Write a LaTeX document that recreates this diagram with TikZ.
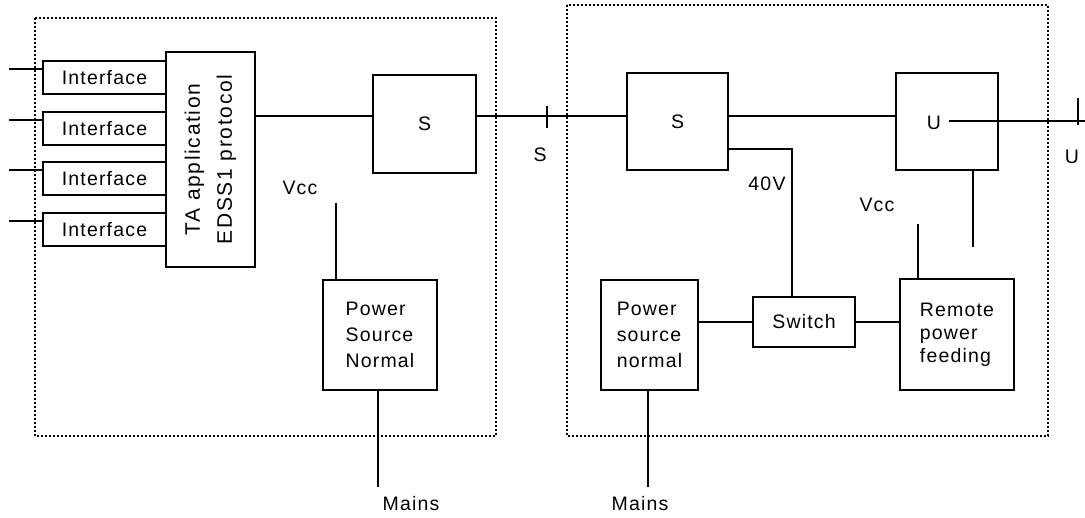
\documentclass[tikz,border=0pt]{standalone}
\usepackage{fontspec}
\setmainfont{Liberation Sans}[LetterSpace=6]

\begin{document}
\begin{tikzpicture}[x=0.5pt,y=-0.5pt,line width=1.2pt,
  every node/.style={font=\fontsize{9.75}{13}\selectfont},
  box/.style={draw,rectangle,inner sep=2pt},
  frame/.style={line width=0.9pt,dash pattern=on 0.9pt off 1.1pt}]

    \useasboundingbox (0,0) rectangle (1085,518);

    %% terminal adapter
    \draw[frame] (35,18) rectangle (496,436);
    \node[box, minimum width=61.5pt, minimum height=16.5pt] (if1) at (104.5,77.5) {Interface};
    \node[box, minimum width=61.5pt, minimum height=16.5pt] (if2) at (104.5,128.5) {Interface};
    \node[box, minimum width=61.5pt, minimum height=16.5pt] (if3) at (104.5,178.5) {Interface};
    \node[box, minimum width=61.5pt, minimum height=16.5pt] (if4) at (104.5,229.5) {Interface};
    \node[box, rotate=90, minimum width=107.5pt, minimum height=44.5pt, align=center,
      font=\fontsize{10.5}{16}\selectfont\addfontfeatures{LetterSpace=8}] (ta) at (210.5,159.5) {TA application\\EDSS1 protocol};
    \node[box, minimum width=51.5pt, minimum height=49pt] (sL) at (424.5,124) {S};
    \node[box, align=left, minimum width=57pt, minimum height=55pt] (psnL) at (380,335) {Power\\Source\\Normal};
    \node (vccLlabel) at (300,188) {Vcc};
    \node (mainsLlabel) at (411,504) {Mains};

    % interface leads
    \foreach \i/\y in {1/69,2/120,3/170,4/221}{
      \coordinate (lead\i) at (9,\y);
      \draw (lead\i) -- (lead\i -| if\i.west);
    }

    %% network termination
    \draw[frame] (567,5) rectangle (1048,436);
    \node[box, minimum width=50.5pt, minimum height=48.5pt] (sR) at (677.5,121.5) {S};
    \node[box, minimum width=51pt, minimum height=48.5pt] (u) at (947,121.5) {};
    \node (uinlabel) at (934,123) {U};
    \node[box, align=left, minimum width=48.5pt, minimum height=55pt] (psnR) at (649.5,335) {Power\\source\\normal};
    \node[box, minimum width=51pt, minimum height=25pt] (sw) at (804,322) {Switch};
    \node[box, align=left, minimum width=57pt, minimum height=55.5pt,
      font=\fontsize{9.75}{11.5}\selectfont] (rpf) at (957,334.5) {Remote\\power\\feeding};
    \node (v40label) at (767,184) {40V};
    \node (vccRlabel) at (877,205) {Vcc};
    \node (mainsRlabel) at (640,504) {Mains};

    % reference points
    \node (slabel) at (540,155) {S};
    \node (ulabel) at (1072,157) {U};

    \coordinate (busS) at (547,116);
    \coordinate (uend) at (1085,121);
    \coordinate (tickU) at (1078,121);
    \coordinate (v40) at (792,149);
    \coordinate (vccL) at (336,203);
    \coordinate (vccR) at (918,224);
    \coordinate (uleg) at (973,247);
    \coordinate (mainsL) at (378,487);
    \coordinate (mainsR) at (648,487);

    % S bus (ta.south is the right side of the turned box)
    \draw (ta.south |- busS) -- (sL.west |- busS);
    \draw (sL.east |- busS) -- (sR.west |- busS);
    \draw (busS) ++(0,-10) -- ++(0,22);
    \draw (sR.east |- busS) -- (u.west |- busS);

    % U line
    \draw (uinlabel.east |- uend) -- (uend);
    \draw (tickU) ++(0,-23) -- ++(0,27);

    % power
    \draw (sR.east |- v40) -- (v40) -- (v40 |- sw.north);
    \draw (psnR.east |- sw.west) -- (sw.west);
    \draw (sw.east) -- (rpf.west |- sw.east);
    \draw (vccR) -- (vccR |- rpf.north);
    \draw (uleg |- u.south) -- (uleg);
    \draw (vccL) -- (vccL |- psnL.north);
    \draw (mainsL |- psnL.south) -- (mainsL);
    \draw (mainsR |- psnR.south) -- (mainsR);
  \end{tikzpicture}
\end{document}
